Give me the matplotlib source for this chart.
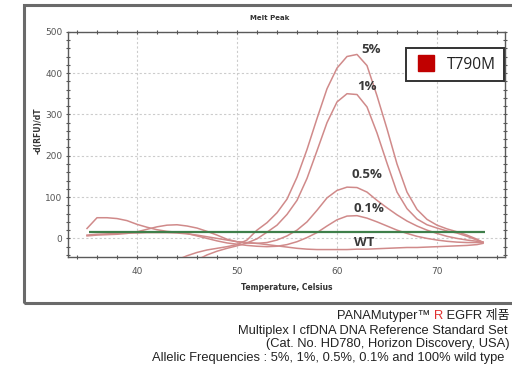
import numpy as np
import matplotlib
matplotlib.use("Agg")
import matplotlib.pyplot as plt
from matplotlib.lines import Line2D
from matplotlib.patches import Rectangle

# ---------------- data ----------------
temps = [35, 36, 37, 38, 39, 40, 41, 42, 43, 44, 45, 46, 47, 48, 49, 50, 51, 52, 53, 54,
         55, 56, 57, 58, 59, 60, 61, 62, 63, 64, 65, 66, 67, 68, 69, 70, 71, 72, 73, 74, 74.6]
nan = np.nan
curve_5 = [nan]*9 + [-52, -42, -34, -28, -24, -20, -15, -4, 20, 38, 62, 95, 148, 215, 290, 362,
                     412, 440, 445, 418, 345, 265, 180, 112, 70, 46, 32, 23, 16, 8, -2, -10]
curve_1 = [nan]*11 + [-52, -40, -31, -24, -18, -11, -1, 15, 32, 58, 92, 145, 212, 280, 330,
                      350, 348, 318, 255, 182, 112, 72, 47, 33, 25, 18, 13, 5, -4, -9]
curve_05 = [6, 8, 9, 10, 12, 16, 22, 28, 32, 33, 30, 25, 17, 8, -2, -8, -11, -12, -10, -4,
            6, 20, 40, 68, 98, 116, 124, 123, 112, 92, 74, 57, 42, 30, 20, 12, 5, 0, -4, -7, -9]
curve_01 = [24, 50, 50, 48, 43, 34, 27, 21, 17, 15, 12, 6, 0, -6, -11, -14, -17, -19, -20, -19,
            -15, -8, 2, 14, 30, 45, 54, 55, 49, 40, 30, 20, 12, 5, 0, -4, -7, -9, -10, -10, -10]
curve_wt = [8, 10, 11, 12, 13, 13, 14, 14, 14, 13, 11, 8, 4, 0, -4, -8, -10, -12, -15, -18,
            -21, -24, -26, -27, -27, -27, -27, -26, -26, -25, -24, -23, -22, -22, -21, -20,
            -19, -18, -17, -15, -12]
series = {"5%": curve_5, "1%": curve_1, "0.5%": curve_05, "0.1%": curve_01, "WT": curve_wt}
label_pos = {"5%": (63.4, 458), "1%": (63.0, 368), "0.5%": (63.0, 154),
             "0.1%": (63.2, 73), "WT": (62.7, -11)}
threshold = 15
thr_start, thr_end = 35.2, 74.8
legend_label = "T790M"
caption = ["PANAMutyper\u2122 ", "R", " EGFR 제품",
           "Multiplex I cfDNA DNA Reference Standard Set",
           "(Cat. No. HD780, Horizon Discovery, USA)",
           "Allelic Frequencies : 5%, 1%, 0.5%, 0.1% and 100% wild type"]

# ---------------- figure ----------------
W, H = 512, 371
fig = plt.figure(figsize=(W/100, H/100), dpi=100)
fig.patch.set_facecolor("white")

def fx(px):
    return px / W

def fy(py):
    return 1 - py / H

# outer frame
fig.patches.append(Rectangle((fx(24), fy(303)), fx(600) - fx(24), fy(5) - fy(303),
                             transform=fig.transFigure, fill=False,
                             edgecolor="#6a6a6a", linewidth=2.2, zorder=0))

ax = fig.add_axes([fx(68), fy(257), fx(505) - fx(68), fy(31.7) - fy(257)])
ax.set_xlim(33.1, 76.8)
ax.set_ylim(-45, 500)

for name, vals in series.items():
    ax.plot(temps, vals, color="#d08a8a", lw=1.1, zorder=3)
ax.hlines(threshold, thr_start, thr_end, color="#3f7f4a", lw=1.6, zorder=4)

for name, (tx, ty) in label_pos.items():
    ax.text(tx, ty, name, ha="center", va="center", fontsize=9.5, fontweight="bold",
            color="#3a3a3a", family=["Open Sans", "DejaVu Sans"], zorder=5)

ax.set_xticks([40, 50, 60, 70])
ax.set_xticks(np.arange(34, 77, 2), minor=True)
ax.set_yticks([0, 100, 200, 300, 400, 500])
ax.set_yticks(np.arange(-40, 501, 20), minor=True)
ax.tick_params(which="both", direction="inout", top=True, right=True, length=3,
               width=0.8, color="#555555", labelsize=6.5, labelcolor="#555555")
ax.tick_params(axis="x", which="major", pad=6)
ax.tick_params(axis="y", which="major", pad=2.5)
ax.tick_params(which="minor", length=2.5)
ax.grid(True, which="major", color="#cccccc", linestyle=(0, (2, 2)), lw=0.8)
for s in ax.spines.values():
    s.set_color("#5a5a5a")
    s.set_linewidth(1.0)

leg_handle = Line2D([], [], marker="s", ls="", color="#c00000", markersize=11)
leg = ax.legend([leg_handle], [legend_label], loc="upper right",
                bbox_to_anchor=(fx(504), fy(48)), bbox_transform=fig.transFigure,
                borderaxespad=0, fancybox=False, framealpha=1, edgecolor="#333333",
                borderpad=0.55, handletextpad=0.55, handlelength=1.5,
                prop={"family": ["Open Sans", "DejaVu Sans"], "size": 11.2})
leg.get_frame().set_linewidth(1.4)
for t in leg.get_texts():
    t.set_color("#222222")

fig.text(fx(270), fy(18), "Melt Peak", ha="center", va="center", fontsize=5,
         fontweight="bold", color="#333333")
fig.text(fx(38), fy(131), "-d(RFU)/dT", ha="center", va="center", rotation=90,
         fontsize=5.5, fontweight="bold", color="#333333")
fig.text(fx(287), fy(288), "Temperature, Celsius", ha="center", va="center",
         fontsize=5.5, fontweight="bold", color="#333333")

cap_fam = ["Liberation Sans", "Noto Sans CJK KR"]
cap_size = 9.3
fig.canvas.draw()
r = fig.canvas.get_renderer()
t1 = fig.text(fx(337), fy(316), caption[0], ha="left", va="center", fontsize=cap_size,
              family=cap_fam, color="#222222")
bb = t1.get_window_extent(r)
t2 = fig.text(bb.x1 / W, fy(316), caption[1], ha="left", va="center", fontsize=cap_size,
              family=cap_fam, color="#e03030")
bb2 = t2.get_window_extent(r)
fig.text(bb2.x1 / W, fy(316), caption[2], ha="left", va="center", fontsize=cap_size,
         family=cap_fam, color="#222222")
fig.text(fx(238), fy(331), caption[3], ha="left", va="center", fontsize=cap_size,
         family=cap_fam, color="#222222")
fig.text(fx(510), fy(344), caption[4], ha="right", va="center", fontsize=cap_size,
         family=cap_fam, color="#222222")
fig.text(fx(152), fy(358), caption[5], ha="left", va="center", fontsize=cap_size,
         family=cap_fam, color="#222222")

fig.savefig("out.png", dpi=100)
